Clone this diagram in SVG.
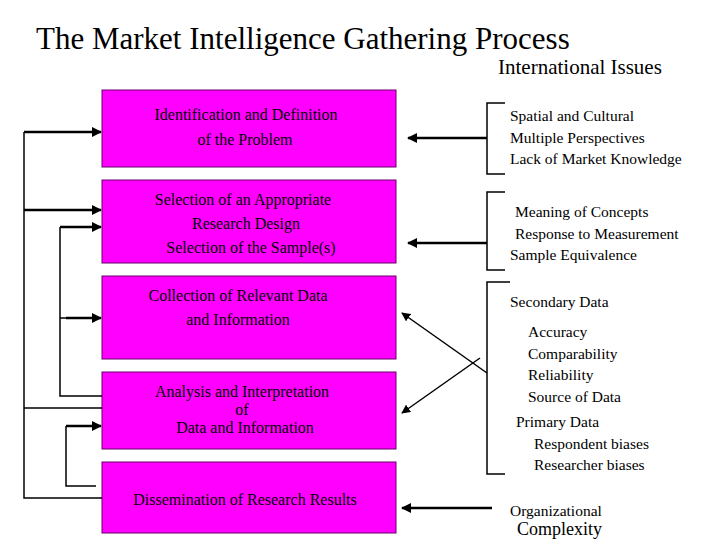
<svg xmlns="http://www.w3.org/2000/svg" width="720" height="540" viewBox="0 0 720 540">
<defs><marker id="a" viewBox="0 0 10 10" refX="9" refY="5" markerWidth="4" markerHeight="4" markerUnits="strokeWidth" orient="auto"><path d="M0,0L10,5L0,10z" fill="#000"/></marker>
<marker id="s" viewBox="0 0 10 10" refX="9" refY="5" markerWidth="6" markerHeight="6" markerUnits="strokeWidth" orient="auto"><path d="M0,0L10,5L0,10z" fill="#000"/></marker></defs>
<style>
.b{fill:#ff00ff;stroke:#660066;stroke-width:1}
.t{font-size:16px;text-anchor:middle}
.r{font-size:15.5px}
.l{fill:none;stroke:#000;stroke-width:1.5}
.k{fill:none;stroke:#000;stroke-width:2.5}
</style>
<rect width="720" height="540" fill="#fff"/>
<g font-family="'Liberation Serif', 'Times New Roman', serif" fill="#000">
<text x="36" y="49" font-size="31">The Market Intelligence Gathering Process</text>
<text x="498" y="74" font-size="21">International Issues</text>
<g id="n1"><rect class="b" x="102" y="90" width="294" height="77"/><text class="t" x="246" y="120" font-size="18">Identification and Definition</text><text class="t" x="245" y="145">of the Problem</text></g>
<g id="n2"><rect class="b" x="102" y="180" width="294" height="83"/><text class="t" x="243" y="205">Selection of an Appropriate</text><text class="t" x="246" y="229">Research Design</text><text class="t" x="251" y="253">Selection of the Sample(s)</text></g>
<g id="n3"><rect class="b" x="102" y="276" width="294" height="83"/><text class="t" x="238" y="301">Collection of Relevant Data</text><text class="t" x="238" y="325">and Information</text></g>
<g id="n4"><rect class="b" x="102" y="372" width="294" height="77"/><text class="t" x="242" y="397">Analysis and Interpretation</text><text class="t" x="242" y="415">of</text><text class="t" x="245" y="433">Data and Information</text></g>
<g id="n5"><rect class="b" x="102" y="462" width="294" height="71"/><text class="t" x="245" y="505">Dissemination of Research Results</text></g>
<g id="issues">
<text class="r" x="510" y="121">Spatial and Cultural</text><text class="r" x="510" y="143">Multiple Perspectives</text><text class="r" x="510" y="164">Lack of Market Knowledge</text>
<text class="r" x="515" y="217">Meaning of Concepts</text><text class="r" x="515" y="239">Response to Measurement</text><text class="r" x="510" y="260">Sample Equivalence</text>
<text class="r" x="510" y="307">Secondary Data</text><text class="r" x="528" y="337">Accuracy</text><text class="r" x="528" y="359">Comparability</text><text class="r" x="528" y="380">Reliability</text><text class="r" x="528" y="402">Source of Data</text><text class="r" x="516" y="427">Primary Data</text><text class="r" x="534" y="449">Respondent biases</text><text class="r" x="534" y="470">Researcher biases</text>
<text class="r" x="510" y="516">Organizational</text><text x="517" y="535" font-size="18">Complexity</text>
</g>
</g>
<g id="connectors">
<path class="l" d="M505,103H487V174H505M505,192H487V270H505M510,282H487V474H505"/>
<path class="k" d="M487,138H408" marker-end="url(#a)"/>
<path class="k" d="M487,243H408" marker-end="url(#a)"/>
<path class="k" d="M492,508H402" marker-end="url(#a)"/>
<path class="l" d="M487,373L402,313" marker-end="url(#s)"/>
<path class="l" d="M480,358L402,413" marker-end="url(#s)"/>
<path class="l" d="M102,498H24V132M24,408H102M102,396H60V227M60,318H66M96,486H66V426"/>
<path class="k" d="M24,132H101" marker-end="url(#a)"/>
<path class="k" d="M24,210H101" marker-end="url(#a)"/>
<path class="k" d="M60,227H101" marker-end="url(#a)"/>
<path class="k" d="M66,318H101" marker-end="url(#a)"/>
<path class="k" d="M66,426H101" marker-end="url(#a)"/>
</g>
</svg>
